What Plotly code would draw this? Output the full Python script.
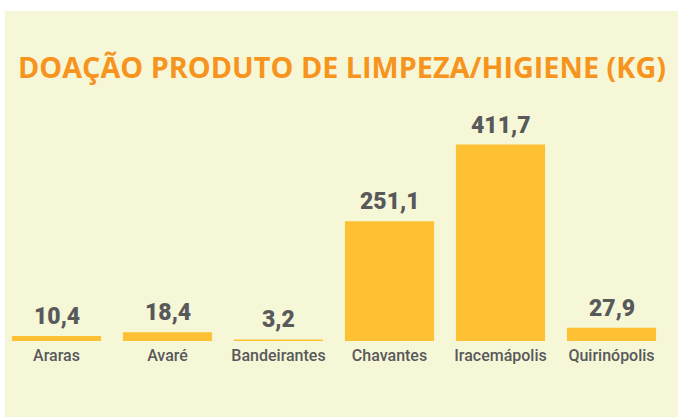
import plotly.graph_objects as go

categories = ["Araras", "Avaré", "Bandeirantes", "Chavantes", "Iracemápolis", "Quirinópolis"]
values = [10.4, 18.4, 3.2, 251.1, 411.7, 27.9]
value_labels = ["10,4", "18,4", "3,2", "251,1", "411,7", "27,9"]
title_text = "DOAÇÃO PRODUTO DE LIMPEZA/HIGIENE (KG)"

W, H = 678, 417
L, R, T, B = 1, 11, 100, 76
PW, PH = W - L - R, H - T - B

BG = "#F6F7D7"
BAR = "#FEC133"
ORANGE = "#F7941D"
GRAY = "#58595B"
FONT = "Roboto"

fig = go.Figure()
fig.add_trace(go.Bar(
    x=categories, y=values,
    marker=dict(color=BAR, line=dict(width=0)),
    hoverinfo="skip",
))

for c, v, t in zip(categories, values, value_labels):
    fig.add_annotation(
        x=c, y=v, text=t, showarrow=False,
        xanchor="center", yanchor="bottom", yshift=4,
        font=dict(family=FONT, size=23, color=GRAY, weight=900),
    )

fig.add_shape(
    type="rect", xref="paper", yref="paper", layer="below",
    x0=(5 - L) / PW, x1=(W - L) / PW + 0.05,
    y0=-B / PH - 0.05, y1=(H - B - 11) / PH,
    fillcolor=BG, line=dict(width=0),
)

fig.update_layout(
    width=W, height=H,
    margin=dict(l=L, r=R, t=T, b=B),
    paper_bgcolor="white",
    plot_bgcolor="rgba(0,0,0,0)",
    bargap=0.197,
    showlegend=False,
    title=dict(
        text=title_text,
        font=dict(family="Open Sans", size=28.8, color=ORANGE, weight="bold"),
        xref="paper", x=(18 - L) / PW, xanchor="left",
        yref="container", y=1 - 68 / H, yanchor="middle",
    ),
    xaxis=dict(
        showgrid=False, zeroline=False, showline=False, ticks="",
        tickfont=dict(family=FONT, size=16, color=GRAY, weight=500),
        ticklabelstandoff=3,
        fixedrange=True,
    ),
    yaxis=dict(
        range=[0, 505], visible=False, showgrid=False, zeroline=False,
        fixedrange=True,
    ),
)

fig.write_html(
    "out.html",
    config={"displayModeBar": False, "staticPlot": True},
    post_script="document.body.style.margin='0';",
)
